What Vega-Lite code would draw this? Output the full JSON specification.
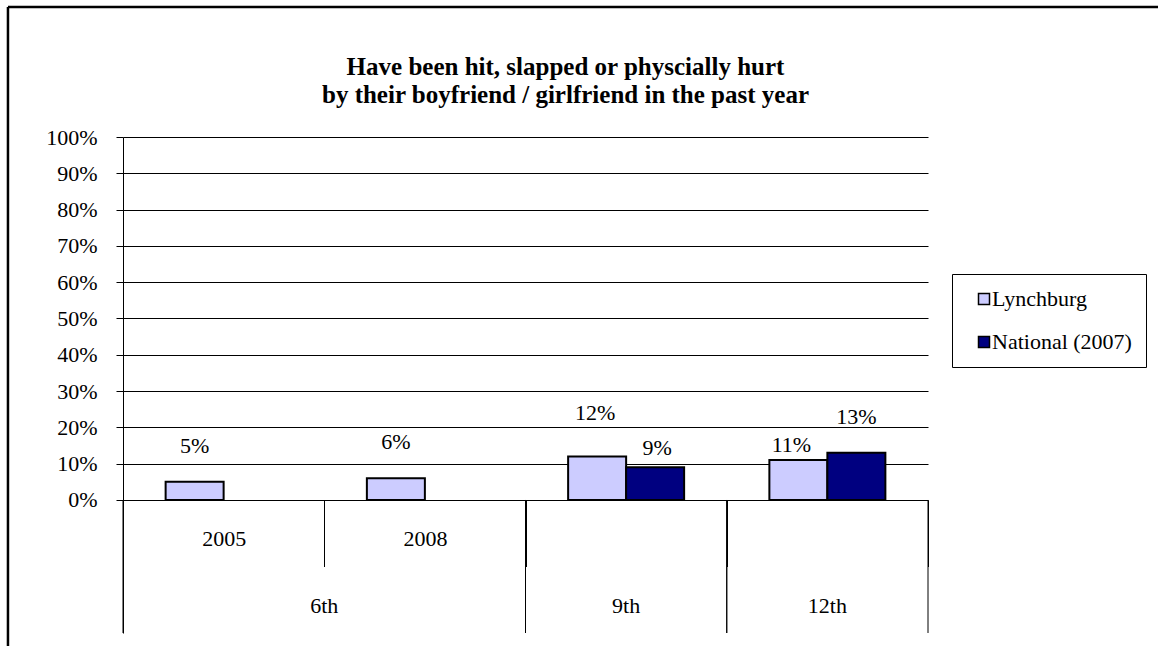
{
  "$schema": "https://vega.github.io/schema/vega-lite/v6.json",
  "width": 805,
  "height": 496,
  "autosize": {"type": "none"},
  "padding": {"left": 123, "top": 137, "right": 230, "bottom": 13},
  "background": "white",
  "config": {
    "font": "Liberation Serif",
    "view": {"stroke": null},
    "text": {"font": "Liberation Serif", "fontSize": 22, "color": "black"}
  },
  "title": {
    "text": ["Have been hit, slapped or physcially hurt", "by their boyfriend / girlfriend in the past year"],
    "font": "Liberation Serif",
    "fontSize": 25,
    "fontWeight": "bold",
    "lineHeight": 28,
    "color": "black",
    "anchor": "middle",
    "dx": 40,
    "offset": -102
  },
  "datasets": {
    "bars": [
      {"cat": "2005", "series": "Lynchburg", "value": 0.05},
      {"cat": "2008", "series": "Lynchburg", "value": 0.06},
      {"cat": "9th", "series": "Lynchburg", "value": 0.12},
      {"cat": "9th", "series": "National (2007)", "value": 0.09},
      {"cat": "12th", "series": "Lynchburg", "value": 0.11},
      {"cat": "12th", "series": "National (2007)", "value": 0.13}
    ],
    "groups": [
      {"group": "6th", "first": "2005", "last": "2008"},
      {"group": "9th", "first": "9th", "last": "9th"},
      {"group": "12th", "first": "12th", "last": "12th"}
    ],
    "frame": [{"f": 1}]
  },
  "resolve": {"scale": {"x": "independent", "y": "independent"}},
  "layer": [
    {
      "data": {"name": "frame"},
      "layer": [
        {
          "mark": {"type": "rule", "color": "black", "strokeWidth": 2.5},
          "encoding": {
            "x": {"datum": -0.1429, "type": "quantitative", "scale": {"domain": [0, 1], "nice": false, "zero": false}, "axis": null},
            "x2": {"datum": 1.3},
            "y": {"datum": 1.262, "type": "quantitative", "scale": {"domain": [0, 1], "nice": false, "zero": false}, "axis": null}
          }
        },
        {
          "mark": {"type": "rule", "color": "black", "strokeWidth": 2.5},
          "encoding": {
            "x": {"datum": -0.1429, "type": "quantitative", "scale": {"domain": [0, 1], "nice": false, "zero": false}, "axis": null},
            "y": {"datum": 1.262, "type": "quantitative", "scale": {"domain": [0, 1], "nice": false, "zero": false}, "axis": null},
            "y2": {"datum": -0.1}
          }
        }
      ]
    },
    {
      "layer": [
        {
          "data": {"name": "bars"},
          "mark": {"type": "bar", "stroke": "black", "strokeWidth": 2},
          "encoding": {
            "x": {
              "field": "cat", "type": "nominal",
              "scale": {"domain": ["2005", "2008", "9th", "12th"], "paddingInner": 0, "paddingOuter": 0},
              "axis": {
                "title": null,
                "orient": "bottom",
                "offset": -133,
                "domain": false,
                "grid": false,
                "tickBand": "extent",
                "tickSize": 66.5,
                "tickColor": "black",
                "tickWidth": 1,
                "labelAngle": 0,
                "labelExpr": "datum.label == '9th' || datum.label == '12th' ? '' : datum.label",
                "labelFont": "Liberation Serif",
                "labelFontSize": 22,
                "labelColor": "black",
                "labelBaseline": "alphabetic",
                "labelPadding": -21
              }
            },
            "xOffset": {
              "field": "series", "type": "nominal",
              "scale": {"domain": ["Lynchburg", "National (2007)"], "paddingInner": 0, "paddingOuter": 0.735}
            },
            "y": {
              "field": "value", "type": "quantitative",
              "scale": {"domain": [-0.3664, 1], "nice": false, "zero": false},
              "axis": {
                "title": null,
                "values": [0, 0.1, 0.2, 0.3, 0.4, 0.5, 0.6, 0.7, 0.8, 0.9, 1],
                "format": ".0%",
                "grid": true,
                "gridColor": "black",
                "gridWidth": 1,
                "domainColor": "black",
                "domainWidth": 1,
                "tickColor": "black",
                "tickSize": 7,
                "labelFont": "Liberation Serif",
                "labelFontSize": 22,
                "labelColor": "black",
                "labelPadding": 19
              }
            },
            "y2": {"datum": 0},
            "color": {
              "field": "series", "type": "nominal",
              "scale": {"domain": ["Lynchburg", "National (2007)"], "range": ["#CCCCFF", "#000080"]},
              "legend": {
                "title": null,
                "orient": "none",
                "legendX": 829,
                "legendY": 137,
                "direction": "vertical",
                "symbolType": "square",
                "symbolSize": 121,
                "symbolStrokeColor": "black",
                "symbolStrokeWidth": 1.5,
                "symbolOffset": 7,
                "labelOffset": -3,
                "labelFont": "Liberation Serif",
                "labelFontSize": 22,
                "labelColor": "black",
                "rowPadding": 21,
                "padding": 14,
                "strokeColor": "black",
                "fillColor": "white"
              }
            }
          }
        },
        {
          "data": {"name": "bars"},
          "transform": [{"filter": "datum.value == 0.05 || datum.value == 0.06 || datum.value == 0.13"}],
          "mark": {"type": "text", "baseline": "alphabetic", "dy": -29},
          "encoding": {
            "x": {"field": "cat", "type": "nominal", "scale": {"domain": ["2005", "2008", "9th", "12th"]}},
            "xOffset": {"field": "series", "type": "nominal"},
            "y": {"field": "value", "type": "quantitative"},
            "text": {"field": "value", "type": "quantitative", "format": ".0%"}
          }
        },
        {
          "data": {"name": "bars"},
          "transform": [{"filter": "datum.value == 0.12"}],
          "mark": {"type": "text", "baseline": "alphabetic", "dy": -36, "dx": -2},
          "encoding": {
            "x": {"field": "cat", "type": "nominal", "scale": {"domain": ["2005", "2008", "9th", "12th"]}},
            "xOffset": {"field": "series", "type": "nominal"},
            "y": {"field": "value", "type": "quantitative"},
            "text": {"field": "value", "type": "quantitative", "format": ".0%"}
          }
        },
        {
          "data": {"name": "bars"},
          "transform": [{"filter": "datum.value == 0.09"}],
          "mark": {"type": "text", "baseline": "alphabetic", "dy": -12, "dx": 2},
          "encoding": {
            "x": {"field": "cat", "type": "nominal", "scale": {"domain": ["2005", "2008", "9th", "12th"]}},
            "xOffset": {"field": "series", "type": "nominal"},
            "y": {"field": "value", "type": "quantitative"},
            "text": {"field": "value", "type": "quantitative", "format": ".0%"}
          }
        },
        {
          "data": {"name": "bars"},
          "transform": [{"filter": "datum.value == 0.11"}],
          "mark": {"type": "text", "baseline": "alphabetic", "dy": -8, "dx": -7},
          "encoding": {
            "x": {"field": "cat", "type": "nominal", "scale": {"domain": ["2005", "2008", "9th", "12th"]}},
            "xOffset": {"field": "series", "type": "nominal"},
            "y": {"field": "value", "type": "quantitative"},
            "text": {"field": "value", "type": "quantitative", "format": ".0%"}
          }
        },
        {
          "data": {"name": "groups"},
          "mark": {"type": "rule", "color": "black", "strokeWidth": 1},
          "encoding": {
            "x": {"field": "first", "type": "nominal", "bandPosition": 0, "scale": {"domain": ["2005", "2008", "9th", "12th"]}},
            "y": {"datum": 0, "type": "quantitative"},
            "y2": {"datum": -0.3664}
          }
        },
        {
          "data": {"name": "groups"},
          "mark": {"type": "rule", "color": "black", "strokeWidth": 1},
          "encoding": {
            "x": {"field": "last", "type": "nominal", "bandPosition": 1, "scale": {"domain": ["2005", "2008", "9th", "12th"]}},
            "y": {"datum": 0, "type": "quantitative"},
            "y2": {"datum": -0.3664}
          }
        },
        {
          "data": {"name": "groups"},
          "transform": [{"filter": "datum.first != datum.last"}],
          "mark": {"type": "text", "baseline": "alphabetic"},
          "encoding": {
            "x": {"field": "last", "type": "nominal", "bandPosition": 0, "scale": {"domain": ["2005", "2008", "9th", "12th"]}},
            "y": {"datum": -0.3113, "type": "quantitative"},
            "text": {"field": "group", "type": "nominal"}
          }
        },
        {
          "data": {"name": "groups"},
          "transform": [{"filter": "datum.first == datum.last"}],
          "mark": {"type": "text", "baseline": "alphabetic"},
          "encoding": {
            "x": {"field": "first", "type": "nominal", "bandPosition": 0.5, "scale": {"domain": ["2005", "2008", "9th", "12th"]}},
            "y": {"datum": -0.3113, "type": "quantitative"},
            "text": {"field": "group", "type": "nominal"}
          }
        }
      ]
    }
  ]
}
